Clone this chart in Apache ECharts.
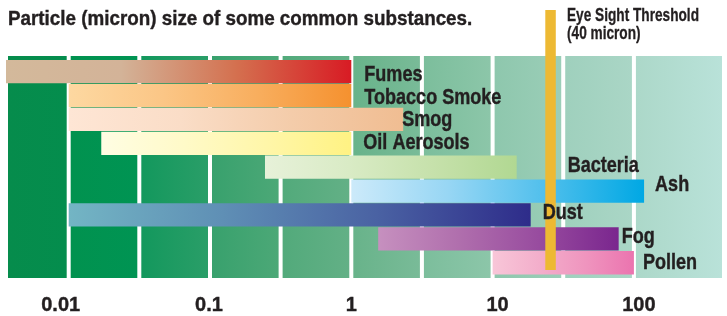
<!DOCTYPE html>
<html>
<head>
<meta charset="utf-8">
<script src="https://cdn.jsdelivr.net/npm/echarts@6/dist/echarts.min.js"></script>
<style>
html, body { margin: 0; padding: 0; background: #fff; }
#chart { width: 727px; height: 316px; }
</style>
</head>
<body>
<div id="chart"></div>
<script>
// particle size ranges, micron
var substances = ['Fumes', 'Tobacco Smoke', 'Smog', 'Oil Aerosols', 'Bacteria', 'Ash', 'Dust', 'Fog', 'Pollen'];
var sizeFrom = [0.0036, 0.01, 0.01, 0.017, 0.245, 1, 0.01, 1.55, 10];
var sizeTo = [1, 1, 2.33, 1, 14.8, 118, 18.6, 78, 100];
var bandEdges = [0.0036, 0.01, 0.0316, 0.1, 0.316, 1, 3.16, 10, 31.6, 100, 434];
var tickLabels = ['0.01', '0.1', '1', '10', '100'];
var eyeSight = 25.7;

// condensed look: Liberation Sans squeezed sideways
var FONT = '"Liberation Sans", Arial, sans-serif';
var INK = '#231F20';

var barColors = [
  ['#D3B99B', '#D3B398', '#D4704F', '#D81B24'],
  ['#FDD8A1', '#FBC686', '#F8AE5E', '#F5912F'],
  ['#FEE6D5', '#FADDC7', '#F4CCAA', '#F0BD92'],
  ['#FFFDE3', '#FFFAC8', '#FFF6A8', '#FFF283'],
  ['#E7F1D9', '#D9EBC5', '#C6E1AB', '#B1D892'],
  ['#CCEAFA', '#97D6F4', '#4FBFEC', '#00A8E4'],
  ['#73B5C4', '#5F8FB5', '#4A62A3', '#2E2C8A'],
  ['#C690BF', '#B06FAD', '#984C9F', '#7A268E'],
  ['#F8C6D8', '#F3AECB', '#EF94BE', '#EB74AF']
];
var bandColors = [
  ['#068C4C', '#048D4D'],
  ['#01924F', '#009453'],
  ['#13985D', '#2A9E68'],
  ['#38A16D', '#4CA877'],
  ['#52AA7B', '#63B086'],
  ['#68B38A', '#79BB98'],
  ['#7CBE9C', '#8CC6A9'],
  ['#8EC7AD', '#9BCEB8'],
  ['#9FD0BD', '#AAD6C6'],
  ['#ACD8C9', '#B9E2D9']
];
var labelShift = [13, 13, -1, 12, 51, 11, 12, 3, 9];
var labelDy = [2.5, 2, 0, -0.5, -1.5, -6, -2, -2.5, 0];
var tickShift = [-8, -1, 0, 5, 5];

function grad(stops) {
  return new echarts.graphic.LinearGradient(0, 0, 1, 0, stops.map(function (c, k) {
    return { offset: k / (stops.length - 1), color: c };
  }));
}

var bandData = [];
for (var b = 0; b < bandEdges.length - 1; b++) bandData.push([bandEdges[b], bandEdges[b + 1]]);
var barData = substances.map(function (s, i) { return [sizeFrom[i], sizeTo[i], i]; });

var rich = {};
tickLabels.forEach(function (t, k) {
  var s = tickShift[k];
  rich['t' + k] = {
    fontFamily: FONT, fontWeight: 'bold', fontSize: 20, color: INK,
    textBorderColor: INK, textBorderWidth: 0.4,
    padding: [0, s < 0 ? -2 * s : 0, 0, s > 0 ? 2 * s : 0]
  };
});

var xBase = {
  type: 'log', logBase: 10, min: 0.0036, max: 434,
  axisLine: { show: false }, axisTick: { show: false }, splitLine: { show: false }
};

var chart = echarts.init(document.getElementById('chart'));
chart.setOption({
  backgroundColor: '#fff',
  animation: false,
  graphic: [
    { type: 'text', x: 8, y: 19, scaleX: 0.896,
      style: { text: 'Particle (micron) size of some common substances.', font: 'bold 21px ' + FONT,
        fill: INK, stroke: INK, lineWidth: 0.4, verticalAlign: 'middle' } },
    { type: 'text', x: 567, y: 7.5, scaleX: 0.78,
      style: { text: 'Eye Sight Threshold\n(40 micron)', font: 'bold 17.5px ' + FONT, lineHeight: 18,
        fill: INK, stroke: INK, lineWidth: 0.3, verticalAlign: 'top' } }
  ],
  grid: [
    { left: 6, right: 3, top: 56, bottom: 38 },
    { left: 6, right: 3, top: 60, bottom: 41 }
  ],
  xAxis: [
    Object.assign({}, xBase, {
      gridIndex: 0,
      axisLabel: {
        show: true, margin: 17, showMinLabel: false, showMaxLabel: false,
        formatter: function (v) {
          var k = tickLabels.indexOf(String(+(+v).toPrecision(6)));
          return k < 0 ? '' : '{t' + k + '|' + tickLabels[k] + '}';
        },
        rich: rich
      }
    }),
    Object.assign({}, xBase, { gridIndex: 1, axisLabel: { show: false } })
  ],
  yAxis: [
    { type: 'value', gridIndex: 0, min: 0, max: 1, show: false },
    { type: 'category', gridIndex: 1, data: substances, inverse: true, show: false }
  ],
  series: [
    {
      type: 'custom', xAxisIndex: 0, yAxisIndex: 0, z: 1, data: bandData,
      renderItem: function (params, api) {
        var cs = params.coordSys;
        var x0 = api.coord([api.value(0), 0])[0] + 2;
        var x1 = api.coord([api.value(1), 0])[0] - 2;
        return { type: 'rect', shape: { x: x0, y: cs.y, width: x1 - x0, height: cs.height },
          style: { fill: grad(bandColors[params.dataIndex]) } };
      }
    },
    {
      type: 'custom', xAxisIndex: 1, yAxisIndex: 1, z: 2, data: barData,
      renderItem: function (params, api) {
        var p0 = api.coord([api.value(0), api.value(2)]);
        var p1 = api.coord([api.value(1), api.value(2)]);
        var h = api.size([0, 1])[1];
        return { type: 'rect', shape: { x: p0[0], y: p0[1] - h / 2, width: p1[0] - p0[0], height: h - 0.6 },
          style: { fill: grad(barColors[params.dataIndex]) } };
      }
    },
    {
      type: 'custom', xAxisIndex: 1, yAxisIndex: 1, z: 3, clip: false, data: [[eyeSight, 0]],
      renderItem: function (params, api) {
        var x = api.coord([api.value(0), 0])[0];
        return { type: 'rect', shape: { x: x - 5.25, y: 10, width: 10.5, height: 260 },
          style: { fill: '#EDB933' } };
      }
    },
    {
      type: 'custom', xAxisIndex: 1, yAxisIndex: 1, z: 4, clip: false, data: barData,
      renderItem: function (params, api) {
        var i = params.dataIndex;
        var p1 = api.coord([api.value(1), api.value(2)]);
        return { type: 'text', x: p1[0] + labelShift[i], y: p1[1] + labelDy[i], scaleX: 0.82,
          style: { text: substances[i], font: 'bold 22px ' + FONT, fill: INK, stroke: INK, lineWidth: 0.4,
            verticalAlign: 'middle', align: 'left' } };
      }
    }
  ]
});
</script>
</body>
</html>
